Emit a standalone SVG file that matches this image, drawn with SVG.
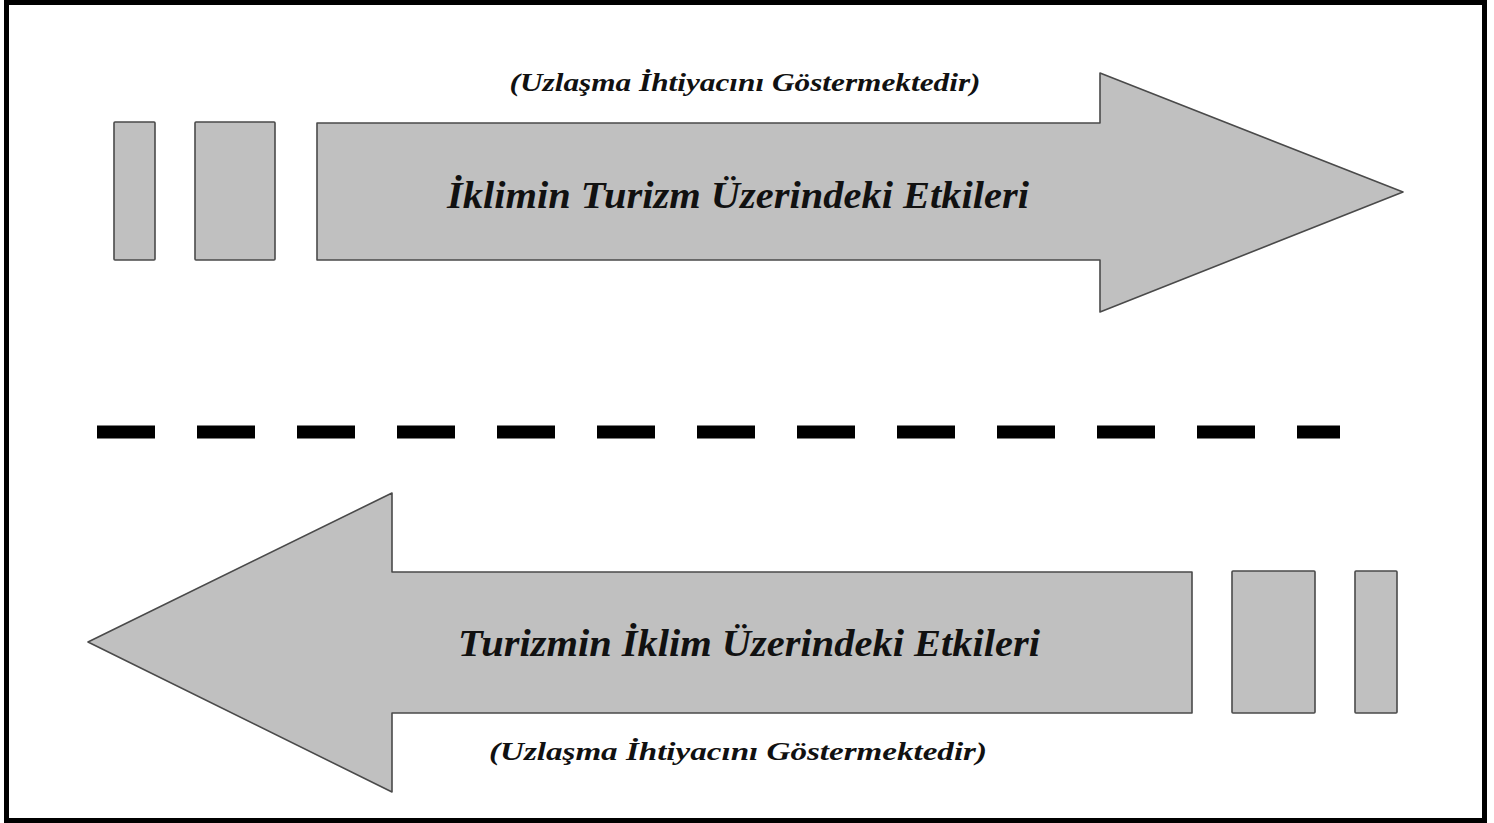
<svg xmlns="http://www.w3.org/2000/svg" width="1494" height="823" viewBox="0 0 1494 823">
<style>
.shape{fill:#c0c0c0;stroke:#4a4a4a;stroke-width:1.6;stroke-linejoin:round}
.title{font-family:"Liberation Serif","Times New Roman",serif;font-weight:bold;font-style:italic;font-size:38px;fill:#111;text-anchor:middle}
.sub{font-family:"Liberation Serif","Times New Roman",serif;font-weight:bold;font-style:italic;font-size:25px;fill:#111;text-anchor:middle}
</style>
<rect x="0" y="0" width="1494" height="823" fill="#fff"/>
<rect id="frame" x="6.5" y="2.5" width="1478" height="818" fill="none" stroke="#000" stroke-width="5"/>
<g id="top-row">
  <rect id="top-bar1" class="shape" x="114" y="122" width="41" height="138" rx="1"/>
  <rect id="top-bar2" class="shape" x="195" y="122" width="80" height="138" rx="1"/>
  <g id="top-arrow">
    <polygon class="shape" points="317,123 1100,123 1100,73 1403,192 1100,312 1100,260 317,260"/>
    <text class="title" x="738" y="208" textLength="582" lengthAdjust="spacingAndGlyphs">İklimin Turizm Üzerindeki Etkileri</text>
  </g>
  <text id="top-sub" class="sub" x="745" y="91" textLength="471" lengthAdjust="spacingAndGlyphs">(Uzlaşma İhtiyacını Göstermektedir)</text>
</g>
<g id="connectors">
  <line x1="97" y1="432" x2="1340" y2="432" stroke="#000" stroke-width="13" stroke-dasharray="58 42"/>
</g>
<g id="bottom-row">
  <g id="bottom-arrow">
    <polygon class="shape" points="1192,572 392,572 392,493 88,642 392,792 392,713 1192,713"/>
    <text class="title" x="749" y="656" textLength="582" lengthAdjust="spacingAndGlyphs">Turizmin İklim Üzerindeki Etkileri</text>
  </g>
  <rect id="bottom-bar1" class="shape" x="1232" y="571" width="83" height="142" rx="1"/>
  <rect id="bottom-bar2" class="shape" x="1355" y="571" width="42" height="142" rx="1"/>
  <text id="bottom-sub" class="sub" x="738" y="760" textLength="498" lengthAdjust="spacingAndGlyphs">(Uzlaşma İhtiyacını Göstermektedir)</text>
</g>
</svg>
